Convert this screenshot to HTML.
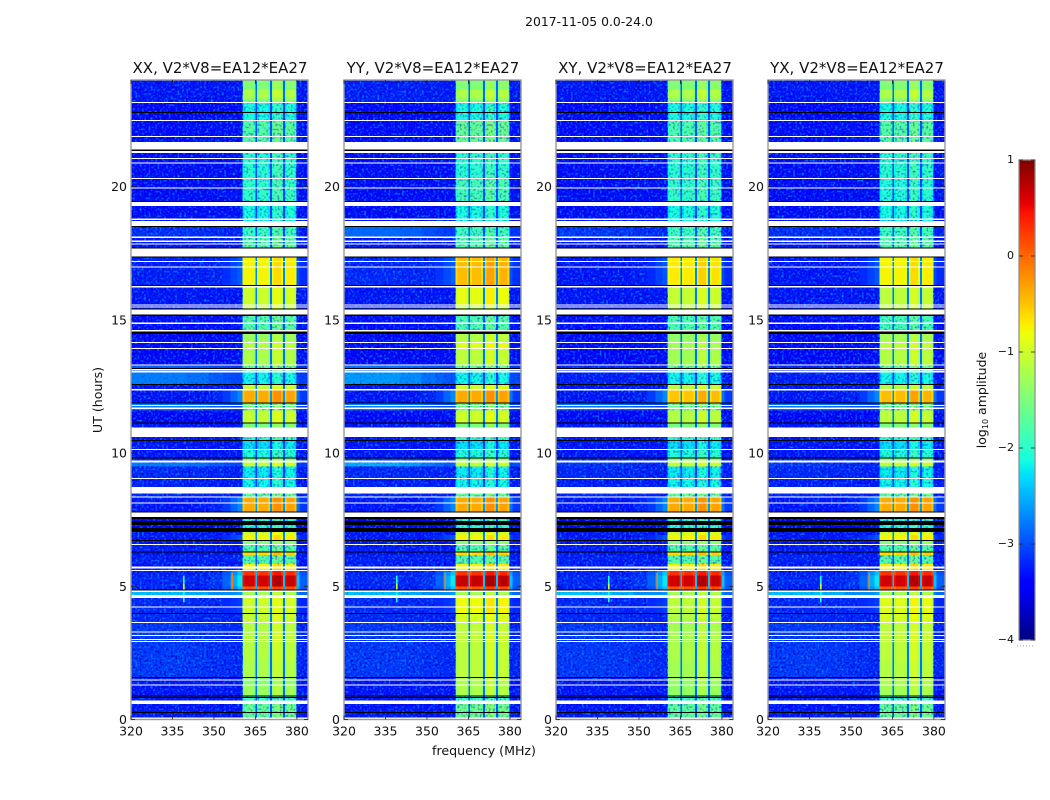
<!DOCTYPE html>
<html lang="en">
<head>
<meta charset="utf-8">
<title>2017-11-05 0.0-24.0</title>
<style>
html,body{margin:0;padding:0;background:#fff;}
#figure{display:block;width:1050px;height:800px;font-family:"DejaVu Sans","Liberation Sans",sans-serif;}
text{fill:#111;}
</style>
</head>
<body>
<svg id="figure" xmlns="http://www.w3.org/2000/svg" width="1050" height="800" viewBox="0 0 1050 800">
  <defs>
    <filter id="speckle-light" x="0" y="0" width="1" height="1" color-interpolation-filters="sRGB">
      <feTurbulence type="fractalNoise" baseFrequency="0.45" numOctaves="1" seed="4"/>
      <feColorMatrix type="matrix" values="0 0 0 0 0  0 0 0 0 0.5  0 0 0 0 1  3.6 0 0 0 -1.75"/>
    </filter>
    <filter id="speckle-dark" x="0" y="0" width="1" height="1" color-interpolation-filters="sRGB">
      <feTurbulence type="fractalNoise" baseFrequency="0.45" numOctaves="1" seed="11"/>
      <feColorMatrix type="matrix" values="0 0 0 0 0  0 0 0 0 0  0 0 0 0 0.75  0 3.2 0 0 -1.6"/>
    </filter>
  </defs>
  <text x="589" y="26" font-size="12.4" text-anchor="middle">2017-11-05 0.0-24.0</text>
  <text x="484" y="755" font-size="12.6" text-anchor="middle">frequency (MHz)</text>
  <text x="0" y="0" font-size="12.6" text-anchor="middle" transform="translate(102 400) rotate(-90)">UT (hours)</text>
  <text x="0" y="0" font-size="12.5" text-anchor="middle" transform="translate(986 400) rotate(-90)">log<tspan font-size="8" dy="2">10</tspan><tspan dy="-2"> amplitude</tspan></text>
  <g id="panels"></g>
  <g id="colorbar"></g>
</svg>
<script>
// ---- axis values ----
const panelTitles = ["XX, V2*V8=EA12*EA27", "YY, V2*V8=EA12*EA27", "XY, V2*V8=EA12*EA27", "YX, V2*V8=EA12*EA27"];
const freqTicks = [320, 335, 350, 365, 380];
const hourTicks = [0, 5, 10, 15, 20];
const colorTicks = [1, 0, -1, -2, -3, -4];
const freqRange = [320, 384];
const hourRange = [0, 24];
const colorRange = [-4, 1];

// ---- frequency columns (MHz) ----
const columnEdges  = [320, 330, 340, 348, 353, 356, 358.5, 360.4, 361, 364.4, 365, 365.6, 366.2, 369.6, 370.2, 370.9, 371.5, 374.3, 374.9, 375.6, 376.2, 379.2, 379.8, 381, 384];
const columnBand   = [0, 0, 0, 0, 0, 0, 0, 1, 1, 1, .22, 1, 1, 1, .22, 1, 1, 1, .22, 1, 1, 1, 0, 0];
const columnBgFall = [1, 1, .9, .7, .6, .5, .5, 0, 0, 0, 0, 0, 0, 0, 0, 0, 0, 0, 0, 0, 0, 0, .4, .4];
const columnLeak   = [0, 0, 0, .1, .3, .6, .85, 0, 0, 0, 0, 0, 0, 0, 0, 0, 0, 0, 0, 0, 0, 0, .7, .3];
const columnOffset = [0, 0, 0, 0, 0, 0, 0, -.2, -.05, -.2, 0, -.2, -.05, -.2, 0, -.1, .1, -.1, 0, -.2, 0, -.2, 0, 0];
const quietLevel = -3.3;

// ---- time blocks (UT hours, log10 amplitude) ----
const blockStart = [0, .6, .9, 1.3, 1.55, 2.2, 2.95, 3.65, 4.0, 4.56,
  4.85, 5.0, 5.4, 5.57, 5.83, 6.17, 6.27, 6.58, 6.74, 6.93,
  7.03, 7.6, 7.8, 8.36, 8.7, 9.07, 9.5, 9.64, 9.83, 10.14,
  10.49, 10.95, 11.14, 11.6, 11.87, 12.34, 12.6, 13.05, 13.33, 13.93,
  14.15, 14.5, 15.15, 15.55, 16.25, 17.35, 18.12, 18.5, 19.42, 20.3,
  21.67, 22.5, 23.18, 23.3, 23.62];
const bandXX = [-1.6, -1.85, -1.25, -1.35, -1.15, -1.1, -1.1, -1, -.95, -1.2,
  .15, .7, .35, -.7, -1.7, -.55, -1.7, -1.4, -.7, -.9,
  -2, -2, -.3, -1.6, -2.1, -2.15, -1, -1.4, -2, -2.2,
  -1.9, -1.45, -1, -1.5, -.3, -1, -2.1, -1.6, -1.15, -1.1,
  -1.25, -1.7, -1.1, -.95, -.7, -1.7, -1.85, -2.05, -1.9, -1.95,
  -1.7, -2.05, -1.4, -1.15, -1.4];
const bandYY = [-1.55, -1.85, -1.15, -1.15, -1.05, -1.05, -1.05, -.9, -.75, -1.2,
  .15, .75, .35, -.7, -1.7, -.55, -1.7, -1.4, -.7, -.9,
  -2, -2, -.3, -1.6, -2.1, -2.15, -1, -1.4, -2, -2.2,
  -1.9, -1.45, -.95, -1.5, -.3, -.95, -2.1, -1.6, -1.05, -.85,
  -1.1, -1.75, -1.1, -.8, -.4, -1.7, -1.85, -2.05, -1.8, -1.95,
  -1.6, -2.05, -1.4, -1.15, -1.4];
const bandXY = [-1.65, -1.85, -1.3, -1.3, -1.2, -1.15, -1.2, -1.1, -1.05, -1.2,
  .15, .7, .35, -.7, -1.7, -.55, -1.7, -1.4, -.7, -.9,
  -2, -2, -.3, -1.6, -2.1, -2.15, -1, -1.4, -2, -2.2,
  -1.9, -1.45, -1.1, -1.5, -.45, -1.05, -2.1, -1.6, -1.2, -1.2,
  -1.3, -1.75, -1.1, -1, -.65, -1.7, -1.85, -2.05, -1.9, -1.95,
  -1.75, -2.05, -1.4, -1.15, -1.4];
const bandYX = [-1.6, -1.85, -1.2, -1.15, -1.1, -1.05, -1.05, -.9, -.85, -1.2,
  .15, .7, .35, -.7, -1.7, -.55, -1.7, -1.4, -.7, -.9,
  -2, -2, -.3, -1.6, -2.1, -2.15, -1, -1.4, -2, -2.2,
  -1.9, -1.45, -1.05, -1.5, -.4, -1.1, -2.1, -1.6, -1.1, -1.05,
  -1.2, -1.8, -1.1, -1.05, -.7, -1.7, -1.85, -2.05, -2, -1.95,
  -1.7, -2.05, -1.4, -1.15, -1.4];
const bgXX = [-3.3, -3.3, -3.3, -3.3, -3.1, -3.1, -3.1, -3.2, -3.2, -2.4,
  -3.25, -3.2, -3.25, -3.3, -3.25, -3.3, -3.25, -3.3, -3.3, -3.3,
  -3.4, -3.4, -3.3, -3.2, -3.25, -3.2, -2.75, -3.2, -3.3, -3.3,
  -3.3, -3.3, -3.4, -2.75, -3.3, -3.3, -2.75, -2.9, -3.4, -3.35,
  -3.4, -3.35, -3.3, -3.3, -3.25, -3.3, -3.15, -3.35, -3.35, -3.35,
  -3.35, -3.4, -3.3, -3.3, -3.3];
const bgYY = [-3.3, -3.3, -3.3, -3.3, -3.1, -3.1, -3.1, -3.2, -3.2, -2.4,
  -3.25, -3.2, -3.25, -3.3, -3.25, -3.3, -3.25, -3.3, -3.3, -3.3,
  -3.4, -3.4, -3.3, -3.2, -3.25, -3.2, -2.5, -3.1, -3.3, -3.3,
  -3.3, -3.3, -3.4, -2.75, -3.3, -3.3, -2.6, -2.8, -3.4, -3.35,
  -3.4, -3.35, -3.3, -3.3, -3.2, -3.3, -2.85, -3.35, -3.35, -3.35,
  -3.35, -3.4, -3.25, -3.25, -3.25];
const bgXY = [-3.3, -3.3, -3.3, -3.3, -3.1, -3.1, -3.1, -3.2, -3.2, -2.4,
  -3.25, -3.2, -3.25, -3.3, -3.25, -3.3, -3.25, -3.3, -3.3, -3.3,
  -3.4, -3.4, -3.3, -3.2, -3.25, -3.2, -3.1, -3.2, -3.3, -3.3,
  -3.3, -3.3, -3.4, -2.8, -3.3, -3.3, -3.25, -3.2, -3.4, -3.35,
  -3.4, -3.35, -3.3, -3.3, -3.3, -3.3, -3.1, -3.35, -3.35, -3.35,
  -3.35, -3.4, -3.3, -3.3, -3.3];
const bgYX = [-3.3, -3.3, -3.3, -3.3, -3.1, -3.1, -3.1, -3.2, -3.2, -2.4,
  -3.25, -3.2, -3.25, -3.3, -3.25, -3.3, -3.25, -3.3, -3.3, -3.3,
  -3.4, -3.4, -3.3, -3.2, -3.25, -3.2, -3.1, -3.2, -3.3, -3.3,
  -3.3, -3.3, -3.4, -2.8, -3.3, -3.3, -3.25, -3.2, -3.4, -3.35,
  -3.4, -3.35, -3.3, -3.3, -3.3, -3.3, -3.15, -3.35, -3.35, -3.35,
  -3.35, -3.4, -3.3, -3.3, -3.3];
const blockLeak = [0, 0, 0, 0, 0, 0, 0, 0, .2, .3,
  1, 1.2, 1, 0, 0, 0, 0, 0, .4, 0,
  0, 0, .7, 0, 0, 0, 0, 0, 0, 0,
  0, 0, 0, 0, .7, 0, 0, 0, 0, 0,
  0, 0, 0, 0, .4, 0, 0, 0, 0, 0,
  0, 0, 0, 0, 0];
const panelBands = [bandXX, bandYY, bandXY, bandYX];
const panelBackgrounds = [bgXX, bgYY, bgXY, bgYX];

// ---- flagged time ranges (UT hours) ----
const whiteStart = [0, .58, 1.27, 1.46, 2.9, 2.98, 3.13, 3.26, 3.62, 4.2, 4.56, 4.78, 5.57, 5.66, 6.54, 7.6, 8.1, 8.33, 8.48, 9.03, 9.65, 10.12, 10.61, 11.66, 11.77, 12.34, 13.03, 13.1, 13.29, 13.91, 14.13, 14.57, 14.85, 15.19, 15.46, 15.53, 16.22, 16.96, 17.17, 17.37, 17.82, 17.92, 18.07, 18.53, 18.75, 19.27, 19.92, 20.28, 20.86, 21.03, 21.26, 21.4, 21.86, 22.46, 23.14];
const whiteEnd   = [.08, .72, 1.31, 1.5, 2.95, 3.02, 3.17, 3.3, 3.66, 4.24, 4.67, 4.84, 5.62, 5.74, 6.58, 7.76, 8.14, 8.37, 8.72, 9.07, 9.72, 10.16, 10.95, 11.7, 11.81, 12.4, 13.07, 13.16, 13.33, 13.95, 14.17, 14.62, 14.89, 15.38, 15.5, 15.57, 16.27, 17, 17.21, 17.67, 17.87, 17.97, 18.12, 18.7, 18.8, 19.42, 19.96, 20.32, 20.9, 21.07, 21.33, 21.67, 21.9, 22.5, 23.18];
const blackStart = [.25, .8, .86, 1.56, 3.96, 4.85, 6.27, 6.7, 7.03, 7.3, 7.52, 7.76, 9.79, 10.45, 11.1, 11.85, 12.56, 13.16, 14.47, 15.15, 15.38, 16.27, 17.33, 17.67, 18.49, 19.42, 21.33, 22.76];
const blackEnd   = [.29, .84, .9, 1.6, 4, 4.88, 6.31, 6.74, 7.18, 7.45, 7.6, 7.8, 9.83, 10.49, 11.14, 11.89, 12.6, 13.2, 14.57, 15.19, 15.42, 16.31, 17.37, 17.71, 18.53, 19.46, 21.4, 22.8];

// ---- narrow interference spikes ----
const spikeFreq  = [338.8, 338.8, 356.3];
const spikeStart = [4.4, 4.85, 4.88];
const spikeEnd   = [5.4, 5.1, 5.5];
const spikeLevel = [-2.1, -1, -.1];

// ---- layout (pixels, not data) ----
const panelLeft = [131, 344, 556, 768];
const panelWidth = 177, panelTop = 80, panelBottom = 719.5;
const barLeft = 1019, barWidth = 16, barTop = 160, barBottom = 640;
const SVGNS = "http://www.w3.org/2000/svg";

function scale(domain, rangeStart, rangeEnd) {
  return v => rangeStart + (v - domain[0]) / (domain[1] - domain[0]) * (rangeEnd - rangeStart);
}
function jetChannel(x, pts) {
  for (let i = 1; i < pts.length; i++) {
    if (x <= pts[i][0]) {
      const t = (x - pts[i - 1][0]) / (pts[i][0] - pts[i - 1][0]);
      return pts[i - 1][1] + t * (pts[i][1] - pts[i - 1][1]);
    }
  }
  return pts[pts.length - 1][1];
}
function jet(level) {
  const x = Math.max(0, Math.min(1, (level - colorRange[0]) / (colorRange[1] - colorRange[0])));
  const r = jetChannel(x, [[0, 0], [.35, 0], [.66, 1], [.89, 1], [1, .5]]);
  const g = jetChannel(x, [[0, 0], [.125, 0], [.375, 1], [.64, 1], [.91, 0], [1, 0]]);
  const b = jetChannel(x, [[0, .5], [.11, 1], [.34, 1], [.65, 0], [1, 0]]);
  return "rgb(" + Math.round(r * 255) + "," + Math.round(g * 255) + "," + Math.round(b * 255) + ")";
}
function make(tag, attrs, parent) {
  const el = document.createElementNS(SVGNS, tag);
  for (const k in attrs) el.setAttribute(k, attrs[k]);
  parent.appendChild(el);
  return el;
}

const panelsRoot = document.getElementById("panels");
panelTitles.forEach(function (title, p) {
  const left = panelLeft[p];
  const xOf = scale(freqRange, left, left + panelWidth);
  const yOf = scale(hourRange, panelBottom, panelTop);
  const g = make("g", {}, panelsRoot);
  
  

  const cells = make("g", { "shape-rendering": "crispEdges" }, g);
  
  
  const bands = panelBands[p], bgs = panelBackgrounds[p];

  blockStart.forEach(function (start, b) {
    const end = b + 1 < blockStart.length ? blockStart[b + 1] : hourRange[1];
    for (let c = 0; c + 1 < columnEdges.length; c++) {
      const bg = quietLevel + (bgs[b] - quietLevel) * columnBgFall[c];
      const w = columnBand[c];
      const level = bg * (1 - w) + bands[b] * w + columnOffset[c] + columnLeak[c] * blockLeak[b];
      const cell = make("rect", {
        x: xOf(columnEdges[c]).toFixed(2),
        y: yOf(end).toFixed(2),
        width: (xOf(columnEdges[c + 1]) - xOf(columnEdges[c])).toFixed(2),
        height: (yOf(start) - yOf(end)).toFixed(2),
        fill: jet(level)
      }, cells);
      
      
    }
  });

  // visual grain only: the fine pixel noise of the reference is not modelled as data
  const grain = make("g", {}, g);
  
  
  blockStart.forEach(function (start, b) {
    const end = b + 1 < blockStart.length ? blockStart[b + 1] : hourRange[1];
    const grainOpacity = bgs[b] > -3 ? .3 : 1;
    const leftEnd = blockLeak[b] > 0 ? 353 : 360.4;
    [[320, leftEnd], [379.8, 384]].forEach(function (span) {
      if (span[0] > 370 && blockLeak[b] > 0) return;
      ["speckle-light", "speckle-dark"].forEach(function (id) {
        const r = make("rect", {
          x: xOf(span[0]), y: yOf(end),
          width: xOf(span[1]) - xOf(span[0]), height: yOf(start) - yOf(end),
          filter: "url(#" + id + ")", opacity: grainOpacity
        }, grain);
        
        
      });
    });
    if (bands[b] <= -1.5) {
      const r = make("rect", {
        x: xOf(360.4), y: yOf(end),
        width: xOf(379.8) - xOf(360.4), height: yOf(start) - yOf(end),
        filter: "url(#speckle-dark)", opacity: .55
      }, grain);
      
      
    }
  });

  spikeFreq.forEach(function (f, i) {
    const s = make("rect", {
      x: xOf(f), y: yOf(spikeEnd[i]), width: 1.6,
      height: yOf(spikeStart[i]) - yOf(spikeEnd[i]), fill: jet(spikeLevel[i])
    }, g);
    
    
  });

  const flags = make("g", { "shape-rendering": "crispEdges" }, g);
  
  
  whiteStart.forEach(function (h, i) {
    const r = make("rect", {
      x: left, y: yOf(whiteEnd[i]), width: panelWidth,
      height: Math.max(1, yOf(h) - yOf(whiteEnd[i])), fill: "#fff"
    }, flags);
    
    
  });
  blackStart.forEach(function (h, i) {
    const r = make("rect", {
      x: left, y: yOf(blackEnd[i]), width: panelWidth,
      height: Math.max(1, yOf(h) - yOf(blackEnd[i])), fill: "#000"
    }, flags);
    
    
  });

  const frame = make("rect", {
    x: left, y: panelTop, width: panelWidth, height: panelBottom - panelTop,
    fill: "none", stroke: "#9a9a9a", "stroke-width": 1.4
  }, g);
  
  

  freqTicks.forEach(function (f) {
    const x = xOf(f);
    const t1 = make("line", { x1: x, x2: x, y1: panelBottom, y2: panelBottom - 4, stroke: "#222", "stroke-width": 0.8 }, g);
    
    
    const t2 = make("line", { x1: x, x2: x, y1: panelTop, y2: panelTop + 4, stroke: "#222", "stroke-width": 0.8 }, g);
    
    
    const lab = make("text", { x: x, y: panelBottom + 16, "font-size": 12.5, "text-anchor": "middle" }, g);
    lab.textContent = String(f);
    
    
  });
  hourTicks.forEach(function (h) {
    const y = yOf(h);
    const t1 = make("line", { x1: left, x2: left + 4, y1: y, y2: y, stroke: "#222", "stroke-width": 0.8 }, g);
    
    
    const t2 = make("line", { x1: left + panelWidth, x2: left + panelWidth - 4, y1: y, y2: y, stroke: "#222", "stroke-width": 0.8 }, g);
    
    
    const lab = make("text", { x: left - 4, y: y + 4.5, "font-size": 12.5, "text-anchor": "end" }, g);
    lab.textContent = String(h);
    
    
  });

  const head = make("text", { x: left + panelWidth / 2 + .5, y: 73, "font-size": 15, "text-anchor": "middle" }, g);
  head.textContent = title;
  
  
});

// ---- colorbar ----
const barRoot = document.getElementById("colorbar");
const barY = scale(colorRange, barBottom, barTop);
const barSteps = 160;
for (let i = 0; i < barSteps; i++) {
  const lo = colorRange[0] + (colorRange[1] - colorRange[0]) * i / barSteps;
  const hi = colorRange[0] + (colorRange[1] - colorRange[0]) * (i + 1) / barSteps;
  const seg = make("rect", {
    x: barLeft, y: barY(hi).toFixed(2), width: barWidth,
    height: (barY(lo) - barY(hi) + .4).toFixed(2), fill: jet((lo + hi) / 2),
    "shape-rendering": "crispEdges"
  }, barRoot);
  
  
}
const barFrame = make("rect", {
  x: barLeft, y: barTop, width: barWidth, height: barBottom - barTop,
  fill: "none", stroke: "#8a8a8a", "stroke-width": 1.2
}, barRoot);


colorTicks.forEach(function (v) {
  const y = barY(v);
  const t1 = make("line", { x1: barLeft, x2: barLeft + 4, y1: y, y2: y, stroke: "#222", "stroke-width": 0.8 }, barRoot);
  
  
  const t2 = make("line", { x1: barLeft + barWidth, x2: barLeft + barWidth - 4, y1: y, y2: y, stroke: "#222", "stroke-width": 0.8 }, barRoot);
  
  
  const lab = make("text", { x: barLeft - 5, y: y + 3, "font-size": 11, "text-anchor": "end" }, barRoot);
  lab.textContent = v < 0 ? "\u2212" + Math.abs(v) : String(v);
  
  
});
const barDots = make("line", {
  x1: 1017, x2: 1035, y1: 646, y2: 646, stroke: "#999", "stroke-width": 1, "stroke-dasharray": "1 2"
}, barRoot);


</script>
</body>
</html>
